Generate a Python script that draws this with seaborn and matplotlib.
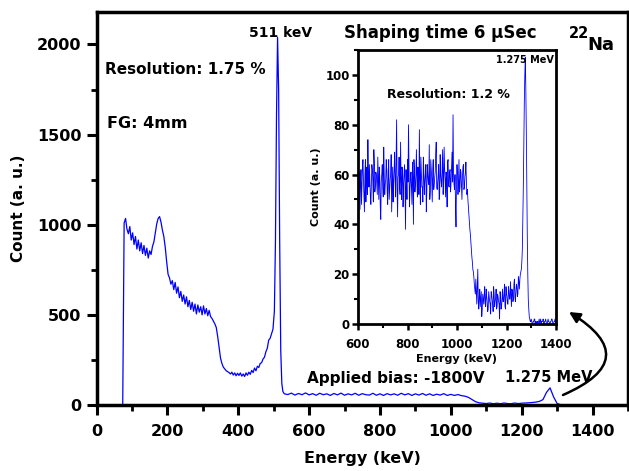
import numpy as np
import pandas as pd
import matplotlib
matplotlib.use("Agg")
import matplotlib.pyplot as plt
from matplotlib.ticker import MultipleLocator
import seaborn as sns

# ---------------- data ----------------
# main spectrum: energies (keV) and counts
main_e_low = [0, 74]
main_c_low = [0, 0]
main_e_grid = list(range(78, 499, 4))
main_c_grid = [
    1010, 1035, 975, 950, 990, 915, 955, 890, 935, 865, 915, 855, 900, 840, 885, 830, 870, 815, 855, 835,
    880, 905, 955, 1005, 1035, 1045, 1015, 970, 935, 875, 795, 725, 705, 670, 690, 640, 680, 620, 655, 595,
    630, 575, 610, 560, 600, 545, 580, 530, 570, 520, 560, 505, 555, 515, 545, 500, 550, 505, 535, 495,
    525, 490, 480, 465, 450, 430, 380, 320, 260, 230, 210, 200, 190, 185, 180, 172, 182, 166, 178, 162,
    176, 164, 178, 160, 172, 158, 178, 165, 182, 170, 192, 180, 205, 190, 215, 208, 230, 235, 255, 265,
    295, 315, 360, 370, 395, 420,
]
main_e_peak = [502, 505, 508, 511, 514, 517, 520, 523, 526, 530]
main_c_peak = [520, 900, 1600, 2040, 1750, 900, 300, 120, 75, 62]
main_e_high = list(range(540, 1501, 10))
main_c_high = [
    58, 66, 55, 64, 57, 67, 56, 63, 54, 65, 57, 62, 53, 64, 56, 66, 54, 62, 56, 65,
    54, 63, 57, 55, 65, 54, 62, 53, 63, 56, 62, 54, 65, 56, 63, 53, 62, 55, 64, 54,
    62, 53, 60, 55, 63, 53, 59, 53, 58, 52, 49, 42, 30, 18, 12, 10, 8, 11, 7, 10,
    7, 11, 8, 7, 11, 8, 10, 11, 12, 14, 16, 20, 30, 70, 95, 45, 8, 2, 1, 1,
    2, 1, 1, 0, 1, 2, 1, 1, 0, 1, 1, 2, 1, 0, 1, 1, 1,
]

# inset spectrum (600-1400 keV): even channels and in-between channels
inset_e_a = list(range(600, 1401, 4))
inset_c_a = [
    58, 50, 46, 62, 55, 66, 52, 60, 49, 63, 74, 55, 58, 48, 64, 57, 70, 53, 61, 56,
    67, 50, 59, 42, 60, 55, 71, 52, 58, 62, 48, 66, 54, 60, 45, 63, 57, 69, 51, 82,
    43, 60, 55, 73, 50, 61, 56, 64, 38, 58, 66, 80, 47, 59, 54, 65, 40, 62, 56, 70,
    51, 59, 78, 48, 61, 55, 67, 52, 60, 45, 64, 57, 72, 53, 62, 49, 66, 56, 61, 73,
    54, 60, 50, 68, 57, 63, 52, 71, 58, 61, 47, 66, 55, 62, 57, 69, 84, 56, 60, 39,
    64, 52, 66, 55, 61, 50, 63, 54, 59, 65, 52, 50, 44, 38, 33, 27, 22, 19, 14, 18,
    8, 22, 6, 14, 10, 3, 12, 8, 15, 7, 11, 5, 13, 9, 4, 12, 8, 15, 7, 10,
    6, 12, 9, 2, 11, 7, 14, 9, 16, 6, 12, 8, 15, 10, 17, 7, 13, 10, 18, 9,
    16, 11, 19, 14, 20, 22, 30, 55, 89, 107, 78, 35, 10, 3, 1, 2, 0, 1, 2, 0,
    1, 1, 0, 2, 1, 0, 1, 2, 0, 1, 1, 0, 2, 1, 0, 1, 2, 0, 1, 2,
    0,
]
inset_e_b = list(range(602, 1399, 4))
inset_c_b = [
    54, 61, 57, 48, 63, 58, 45, 66, 59, 52, 60, 64, 51, 57, 62, 49, 65, 55, 60, 52,
    58, 63, 47, 57, 64, 51, 60, 56, 66, 53, 61, 50, 58, 68, 55, 49, 62, 57, 65, 54,
    59, 67, 52, 58, 63, 47, 60, 55, 62, 50, 57, 65, 54, 61, 48, 59, 66, 53, 60, 57,
    63, 52, 58, 67, 55, 49, 61, 57, 64, 53, 60, 56, 50, 66, 58, 62, 54, 59, 68, 55,
    57, 64, 52, 60, 55, 70, 58, 62, 51, 59, 65, 56, 61, 53, 63, 57, 60, 54, 48, 58,
    60, 57, 53, 62, 56, 59, 64, 55, 61, 57, 54, 47, 41, 36, 30, 25, 21, 16, 12, 13,
    15, 9, 11, 7, 13, 6, 10, 12, 8, 14, 9, 6, 11, 8, 13, 10, 5, 12, 9, 14,
    7, 11, 8, 13, 6, 10, 9, 12, 7, 15, 11, 8, 13, 10, 12, 14, 9, 16, 11, 13,
    15, 12, 17, 18, 21, 25, 42, 72, 100, 95, 55, 20, 6, 2, 1, 1, 0, 1, 2, 1,
    0, 1, 1, 0, 2, 1, 1, 0, 1, 2, 0, 1, 1, 0, 1, 2, 1, 0, 1, 1,
]

main_x_ticks = [0, 200, 400, 600, 800, 1000, 1200, 1400]
main_y_ticks = [0, 500, 1000, 1500, 2000]
inset_x_ticks = [600, 800, 1000, 1200, 1400]
inset_y_ticks = [0, 20, 40, 60, 80, 100]

main_df = pd.DataFrame({
    "Energy": main_e_low + main_e_grid + main_e_peak + main_e_high,
    "Count": main_c_low + main_c_grid + main_c_peak + main_c_high,
})
inset_df = pd.DataFrame({
    "Energy": inset_e_a + inset_e_b,
    "Count": inset_c_a + inset_c_b,
}).sort_values("Energy")

# ---------------- style ----------------
sns.set_style("ticks")
plt.rcParams["font.family"] = ["DejaVu Sans"]
plt.rcParams["font.weight"] = "bold"
plt.rcParams["axes.labelweight"] = "bold"
for k in ["text.color", "axes.labelcolor", "xtick.color", "ytick.color", "axes.edgecolor"]:
    plt.rcParams[k] = "black"

W, H = 629, 471
fig = plt.figure(figsize=(W / 100, H / 100), dpi=100)
fig.patch.set_facecolor("white")

def fx(px):
    return px / W

def fy(py):
    return 1 - py / H

# main axes
ax = fig.add_axes([fx(96.5), fy(405), fx(628) - fx(96.5), fy(12) - fy(405)])
sns.lineplot(data=main_df, x="Energy", y="Count", ax=ax, color="#0000ff", lw=0.9,
             estimator=None, sort=False)
ax.set_xlim(0, 1500)
ax.set_ylim(0, 2180)
ax.set_xticks(main_x_ticks)
ax.set_yticks(main_y_ticks)
ax.xaxis.set_minor_locator(MultipleLocator(100))
ax.yaxis.set_minor_locator(MultipleLocator(250))
for s in ax.spines.values():
    s.set_linewidth(2.5)
    s.set_color("black")
ax.tick_params(axis="x", which="major", direction="out", length=7, width=2.2,
               labelsize=11.5, pad=6.5, color="black")
ax.tick_params(axis="y", which="major", direction="out", length=7, width=2.2,
               labelsize=11.5, pad=4, color="black")
ax.tick_params(which="minor", direction="out", length=4, width=2.0, color="black")
for lab in ax.get_xticklabels() + ax.get_yticklabels():
    lab.set_fontweight("bold")
ax.set_xlabel("Energy (keV)", fontsize=11.5, labelpad=9)
ax.set_ylabel("Count (a. u.)", fontsize=11, labelpad=8)

# inset axes
ins = fig.add_axes([fx(358), fy(324), fx(556) - fx(358), fy(50) - fy(324)])
ins.set_facecolor("white")
sns.lineplot(data=inset_df, x="Energy", y="Count", ax=ins, color="#0000ff", lw=0.6,
             estimator=None, sort=False)
ins.set_xlim(600, 1400)
ins.set_ylim(0, 110)
ins.set_xticks(inset_x_ticks)
ins.set_yticks(inset_y_ticks)
ins.xaxis.set_minor_locator(MultipleLocator(100))
ins.yaxis.set_minor_locator(MultipleLocator(10))
for s in ins.spines.values():
    s.set_linewidth(2.0)
    s.set_color("black")
ins.tick_params(axis="x", which="major", direction="out", length=4, width=1.8,
                labelsize=8.5, pad=6, color="black")
ins.tick_params(axis="y", which="major", direction="out", length=4, width=1.8,
                labelsize=8.5, pad=2, color="black")
ins.tick_params(which="minor", direction="out", length=3, width=1.5, color="black")
for lab in ins.get_xticklabels() + ins.get_yticklabels():
    lab.set_fontweight("bold")
ins.set_xlabel("Energy (keV)", fontsize=8, labelpad=2)
ins.set_ylabel("Count (a. u.)", fontsize=8, labelpad=3)

# ---------------- annotations ----------------
fig.text(fx(281), fy(33), "511 keV", ha="center", va="center", fontsize=10, fontweight="bold")
fig.text(fx(105), fy(69), "Resolution: 1.75 %", ha="left", va="center", fontsize=11, fontweight="bold")
fig.text(fx(107), fy(123), "FG: 4mm", ha="left", va="center", fontsize=11.5, fontweight="bold")
fig.text(fx(440), fy(33), "Shaping time 6 \u03bcSec", ha="center", va="center", fontsize=12, fontweight="bold")
fig.text(fx(569), fy(33), "22", ha="left", va="center", fontsize=10.5, fontweight="bold")
fig.text(fx(587), fy(45), "Na", ha="left", va="center", fontsize=13, fontweight="bold")
fig.text(fx(396), fy(379), "Applied bias: -1800V", ha="center", va="center", fontsize=11, fontweight="bold")
fig.text(fx(549), fy(377), "1.275 MeV", ha="center", va="center", fontsize=10.5, fontweight="bold")
fig.text(fx(525), fy(60), "1.275 MeV", ha="center", va="center", fontsize=7, fontweight="bold")
fig.text(fx(448), fy(94), "Resolution: 1.2 %", ha="center", va="center", fontsize=9, fontweight="bold")

ax.annotate("", xy=(fx(569), fy(312)), xycoords="figure fraction",
            xytext=(fx(563), fy(395)), textcoords="figure fraction",
            arrowprops=dict(arrowstyle="-|>", connectionstyle="arc3,rad=0.95",
                            color="black", lw=1.8, mutation_scale=16,
                            shrinkA=0, shrinkB=0),
            annotation_clip=False)

fig.savefig("out.png", dpi=100, facecolor="white")
